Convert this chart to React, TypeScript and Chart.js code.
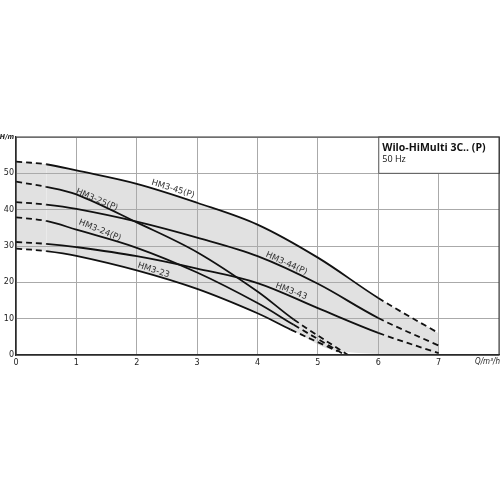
import React, { useEffect, useRef } from 'react';
import Chart from 'chart.js/auto';

// flow Q (m³/h) / head H (m)
const q45 = [0, 0.5, 1, 2, 3, 4, 5, 6, 7];
const h45 = [53.2, 52.5, 50.8, 47.1, 41.9, 35.9, 26.8, 15.7, 6.0];
const q44 = [0, 0.5, 1, 2, 3, 4, 5, 6, 7];
const h44 = [42.1, 41.4, 40.2, 36.7, 32.3, 27.2, 19.6, 10.2, 2.6];
const q43 = [0, 0.5, 1, 2, 3, 4, 5, 6, 7];
const h43 = [31.1, 30.6, 29.7, 27.2, 23.8, 19.8, 12.9, 6.1, 0.5];
const q25 = [0, 0.5, 1, 2, 3, 4, 4.6, 5.5];
const h25 = [47.7, 46.3, 44.2, 36.5, 28.3, 17.5, 9.8, 0];
const q24 = [0, 0.5, 1, 2, 3, 4, 4.6, 5.42];
const h24 = [37.9, 36.9, 34.5, 29.5, 22.7, 14.3, 8.3, 0.3];
const q23 = [0, 0.5, 1, 2, 3, 4, 4.55, 5.33];
const h23 = [29.3, 28.6, 27.3, 23.3, 18.2, 11.5, 7.0, 1.0];

const curveNames = ['HM3-45(P)', 'HM3-44(P)', 'HM3-43', 'HM3-25(P)', 'HM3-24(P)', 'HM3-23'];
const curveQ = [q45, q44, q43, q25, q24, q23];
const curveH = [h45, h44, h43, h25, h24, h23];
const solidFrom = [0.5, 0.5, 0.5, 0.5, 0.5, 0.5];
const solidTo = [6, 6, 6, 4.6, 4.6, 4.55];

// lower edge of the shaded range
const bandQ = [...q23, 7];
const bandH = [...h23, 0];

// curve captions
const labelQ = [2.6, 4.48, 4.56, 1.34, 1.39, 2.28];
const labelH = [45.7, 25.2, 17.5, 42.7, 34.3, 23.3];
const labelAngle = [17, 24, 21, 23, 22, 18];

const xTicks = [0, 1, 2, 3, 4, 5, 6, 7, 8];
const yTicks = [0, 10, 20, 30, 40, 50, 60];

const title = 'Wilo-HiMulti 3C.. (P)';
const subtitle = '50 Hz';

const extras = {
  id: 'extras',
  afterDatasetsDraw(chart: any) {
    const { ctx, chartArea: a, scales } = chart;
    const x = scales.x;
    const y = scales.y;
    ctx.save();
    // captions
    ctx.fillStyle = '#333';
    ctx.font = '8.5px "DejaVu Sans"';
    ctx.textAlign = 'center';
    ctx.textBaseline = 'middle';
    curveNames.forEach((n, i) => {
      ctx.save();
      ctx.translate(x.getPixelForValue(labelQ[i]), y.getPixelForValue(labelH[i]));
      ctx.rotate((labelAngle[i] * Math.PI) / 180);
      ctx.fillText(n, 0, 0);
      ctx.restore();
    });
    // title box
    const bx = x.getPixelForValue(6);
    const by = y.getPixelForValue(50);
    ctx.fillStyle = '#fff';
    ctx.fillRect(bx, a.top, a.right - bx, by - a.top);
    ctx.strokeStyle = '#555';
    ctx.lineWidth = 1;
    ctx.strokeRect(bx + 0.5, a.top, a.right - bx, by - a.top);
    ctx.fillStyle = '#111';
    ctx.textAlign = 'left';
    ctx.textBaseline = 'alphabetic';
    ctx.font = 'bold 10.5px "Open Sans"';
    ctx.fillText(title, bx + 4, a.top + 14);
    ctx.font = '9px "Open Sans"';
    ctx.fillText(subtitle, bx + 4, a.top + 25);
    // frame
    ctx.strokeStyle = '#333';
    ctx.strokeRect(a.left, a.top, a.right - a.left, a.bottom - a.top);
    // x axis unit
    ctx.fillStyle = '#222';
    ctx.font = 'italic 8px "DejaVu Sans Condensed"';
    ctx.textAlign = 'right';
    ctx.textBaseline = 'top';
    ctx.fillText('Q/m³/h', a.right + 1, a.bottom + 3);
    ctx.restore();
  },
};

const App: React.FC = () => {
  const chartRef = useRef<HTMLCanvasElement>(null);
  const chartInstance = useRef<Chart | null>(null);

  useEffect(() => {
    document.body.style.margin = '0';
    if (!chartRef.current) return;
    if (chartInstance.current) chartInstance.current.destroy();
    const ctx = chartRef.current.getContext('2d');
    if (!ctx) return;

    const lines = curveNames.map((name, i) => ({
      label: name,
      data: curveQ[i].map((q, j) => ({ x: q, y: curveH[i][j] })),
      borderColor: '#111',
      borderWidth: 1.8,
      pointRadius: 0,
      tension: 0.35,
      fill: i === 0 ? { target: curveNames.length, above: '#e1e1e1', below: '#e1e1e1' } : false,
      segment: {
        borderDash: (c: any) =>
          c.p0.parsed.x < solidFrom[i] - 1e-6 || c.p1.parsed.x > solidTo[i] + 1e-6 ? [6, 4] : undefined,
      },
    }));

    chartInstance.current = new Chart(ctx, {
      type: 'line',
      data: {
        datasets: [
          ...lines,
          {
            label: 'band',
            data: bandQ.map((q, j) => ({ x: q, y: bandH[j] })),
            borderWidth: 0,
            borderColor: 'rgba(0,0,0,0)',
            pointRadius: 0,
            tension: 0.35,
            fill: false,
          },
        ],
      },
      options: {
        animation: false,
        responsive: true,
        maintainAspectRatio: false,
        layout: { padding: { top: 137, right: 1, left: 0, bottom: 127 } },
        plugins: {
          legend: { display: false },
          tooltip: { enabled: false },
          filler: { drawTime: 'beforeDraw' },
        },
        scales: {
          x: {
            type: 'linear',
            min: 0,
            max: 8,
            afterBuildTicks: (s: any) => { s.ticks = xTicks.map(v => ({ value: v })); },
            afterFit: (s: any) => {
              s.height = 18;
              s.paddingLeft = 0;
              s.paddingRight = 0;
            },
            grid: { color: '#aaa', lineWidth: 1, drawTicks: false },
            border: { color: '#222', width: 1.2 },
            ticks: {
              padding: 3,
              color: '#222',
              font: { family: 'DejaVu Sans', size: 8 },
              maxRotation: 0,
              autoSkip: false,
              callback: (v: any) => (v === 8 ? '' : String(v)),
            },
          },
          y: {
            type: 'linear',
            min: 0,
            max: 60,
            afterBuildTicks: (s: any) => { s.ticks = yTicks.map(v => ({ value: v })); },
            afterFit: (s: any) => {
              s.width = 16;
              s.paddingTop = 0;
              s.paddingBottom = 0;
            },
            grid: { color: '#aaa', lineWidth: 1, drawTicks: false },
            border: { color: '#222', width: 1.2 },
            ticks: {
              padding: 2,
              color: '#222',
              autoSkip: false,
              font: (c: any) =>
                c.tick && c.tick.value === 60
                  ? { family: 'DejaVu Sans Condensed', size: 7, weight: 'bold', style: 'italic' }
                  : { family: 'DejaVu Sans', size: 8 },
              callback: (v: any) => (v === 60 ? 'H/m' : String(v)),
            },
          },
        },
      },
      plugins: [extras],
    });

    return () => {
      if (chartInstance.current) {
        chartInstance.current.destroy();
        chartInstance.current = null;
      }
    };
  }, []);

  return (
    <div style={{ position: 'absolute', left: 0, top: 0, width: 500, height: 500, background: '#fff' }}>
      <canvas ref={chartRef}></canvas>
    </div>
  );
};

export default App;
